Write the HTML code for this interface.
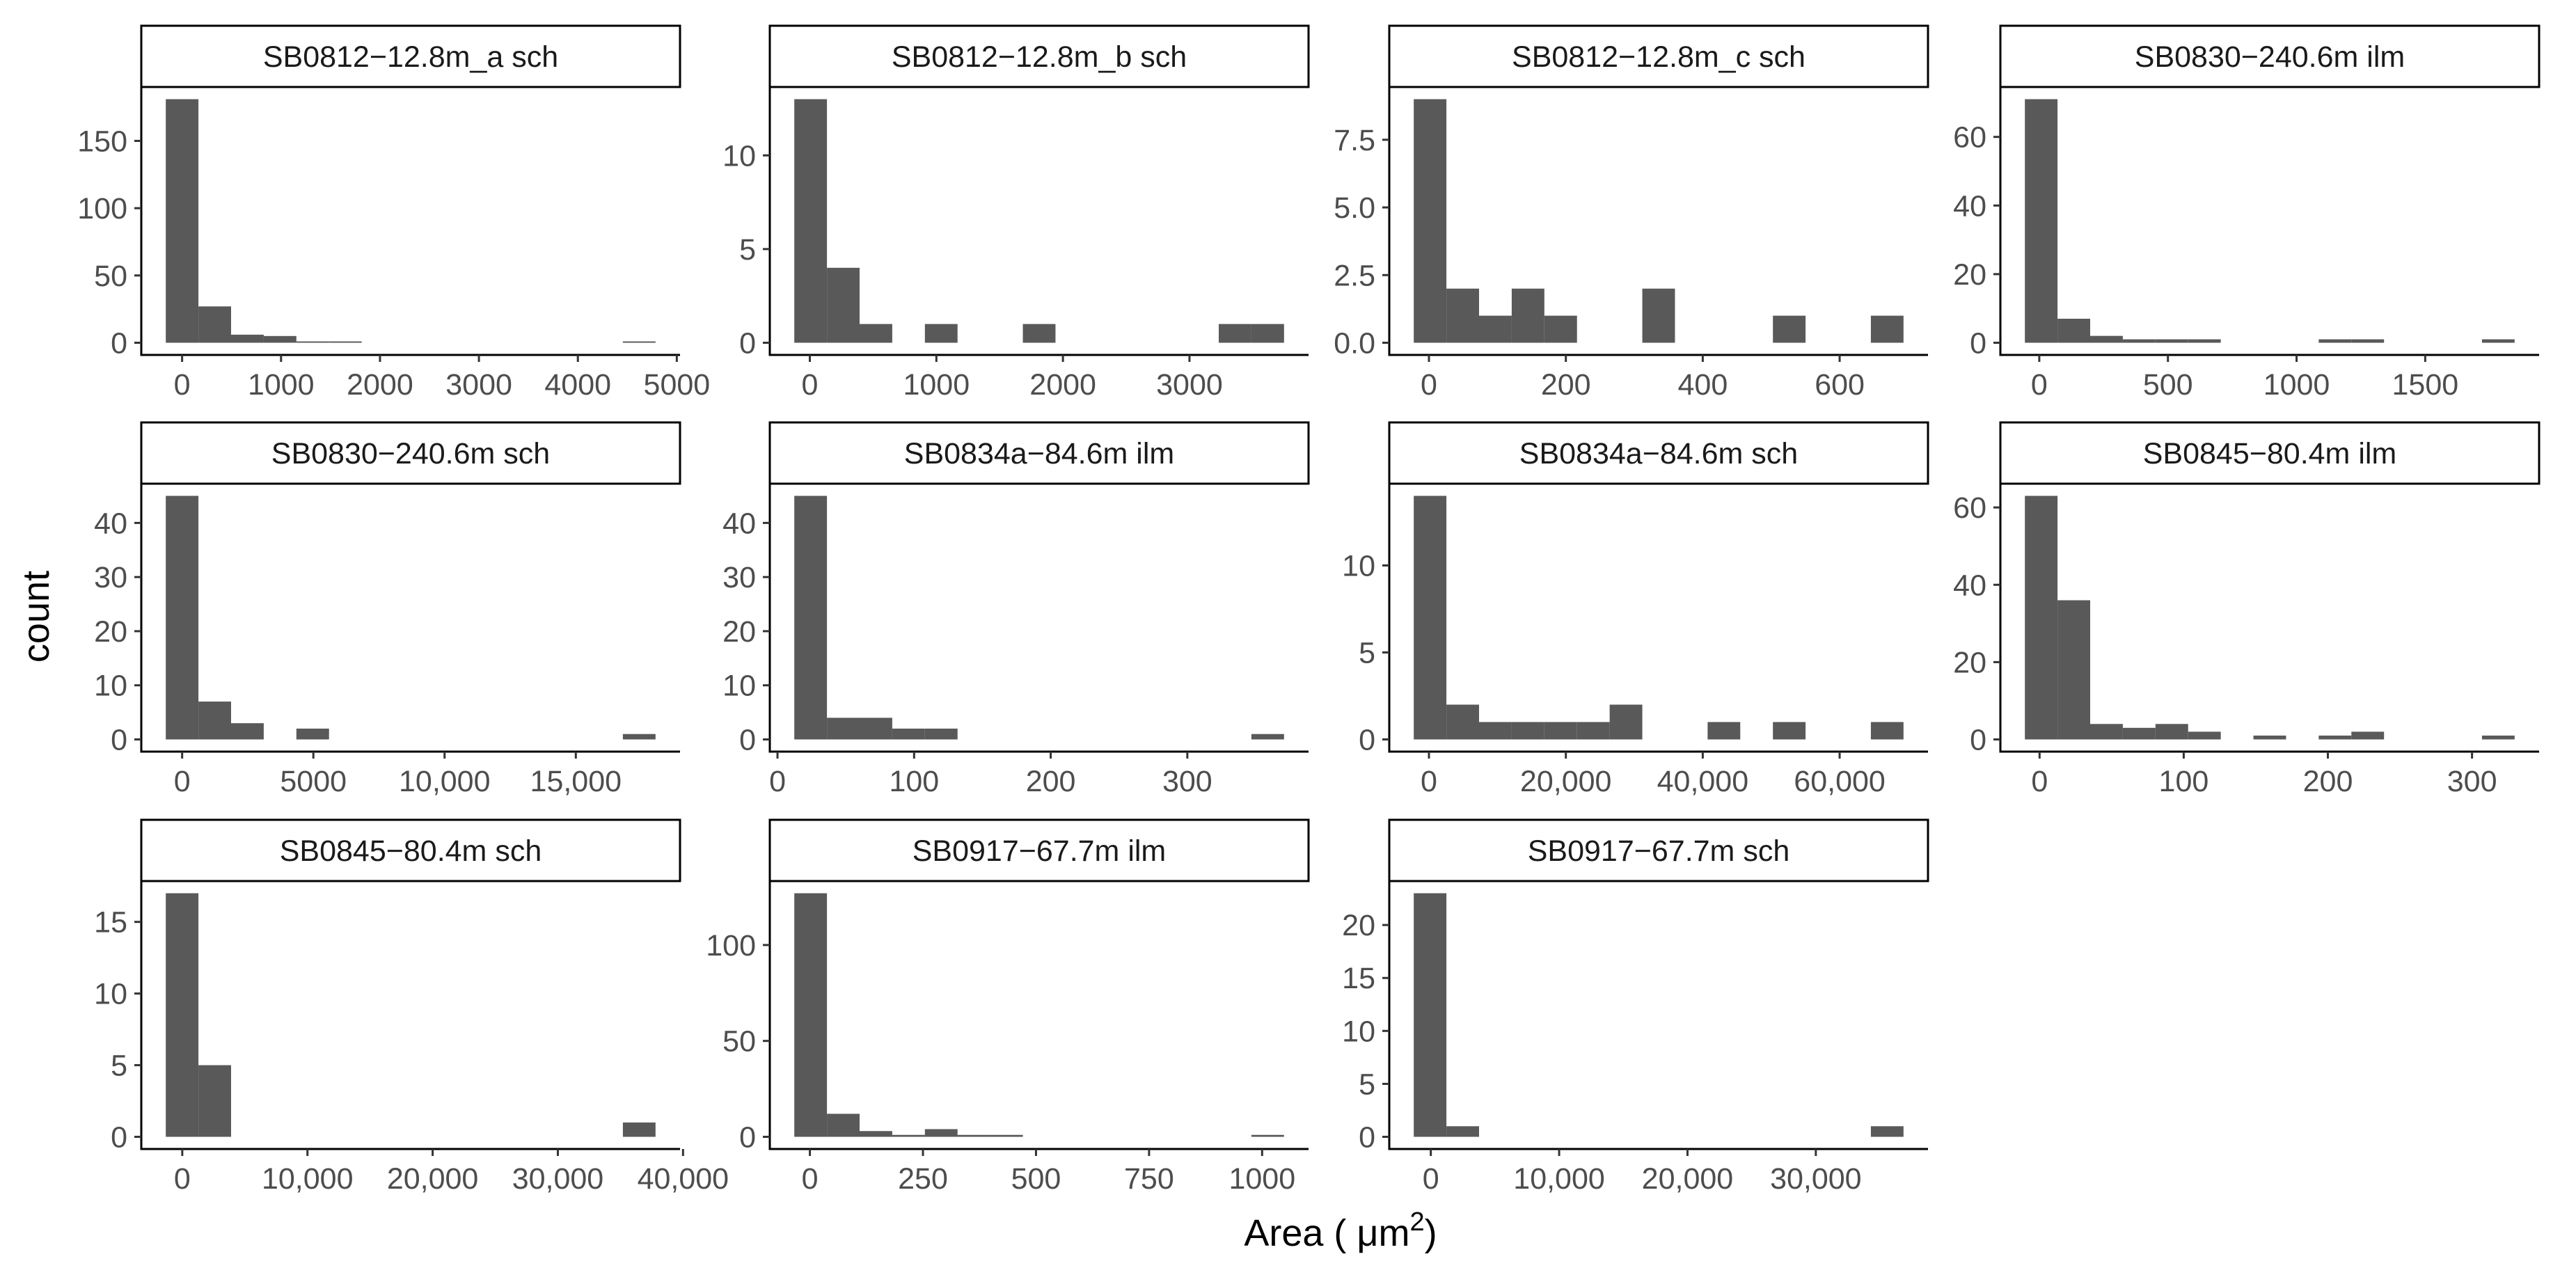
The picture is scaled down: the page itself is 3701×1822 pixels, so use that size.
<!DOCTYPE html>
<html><head><meta charset="utf-8"><title>Area histograms</title>
<style>
html,body{margin:0;padding:0;background:#fff;}
svg{display:block;font-family:"Liberation Sans",Arial,sans-serif;}
</style></head>
<body>
<svg id="chart" width="3701" height="1822" viewBox="0 0 3701 1822" xmlns="http://www.w3.org/2000/svg">
<rect x="0" y="0" width="3701" height="1822" fill="#fff"/>
<text x="70" y="886" font-size="54" fill="#000" text-anchor="middle" transform="rotate(-90 70 886)">count</text>
<text x="1926" y="1790" font-size="54" fill="#000" text-anchor="middle">Area ( μm<tspan dy="-22" font-size="38">2</tspan><tspan dy="22">)</tspan></text>
</svg>
<script>
// ---- data ----
const panelTitles = ["SB0812\u221212.8m_a sch","SB0812\u221212.8m_b sch","SB0812\u221212.8m_c sch","SB0830\u2212240.6m ilm",
  "SB0830\u2212240.6m sch","SB0834a\u221284.6m ilm","SB0834a\u221284.6m sch","SB0845\u221280.4m ilm",
  "SB0845\u221280.4m sch","SB0917\u221267.7m ilm","SB0917\u221267.7m sch"];
const binStarts = [-165, -122.7, -22.2, -56, -623, 12.3, -2220, -10.2, -1317, -34.5, -1328];
const binWidths = [330, 258, 47.7, 126.9, 1244, 23.9, 4770, 22.65, 2608, 72.2, 2544];
const countsP1  = [181,27,6,5,1,1,0,0,0,0,0,0,0,0,1];
const countsP2  = [13,4,1,0,1,0,0,1,0,0,0,0,0,1,1];
const countsP3  = [9,2,1,2,1,0,0,2,0,0,0,1,0,0,1];
const countsP4  = [71,7,2,1,1,1,0,0,0,1,1,0,0,0,1];
const countsP5  = [45,7,3,0,2,0,0,0,0,0,0,0,0,0,1];
const countsP6  = [45,4,4,2,2,0,0,0,0,0,0,0,0,0,1];
const countsP7  = [14,2,1,1,1,1,2,0,0,1,0,1,0,0,1];
const countsP8  = [63,36,4,3,4,2,0,1,0,1,2,0,0,0,1];
const countsP9  = [17,5,0,0,0,0,0,0,0,0,0,0,0,0,1];
const countsP10 = [127,12,3,1,4,1,1,0,0,0,0,0,0,0,1];
const countsP11 = [23,1,0,0,0,0,0,0,0,0,0,0,0,0,1];
const allCounts = [countsP1,countsP2,countsP3,countsP4,countsP5,countsP6,countsP7,countsP8,countsP9,countsP10,countsP11];
const yTicks = [[0,50,100,150],[0,5,10],[0,2.5,5,7.5],[0,20,40,60],[0,10,20,30,40],[0,10,20,30,40],
  [0,5,10],[0,20,40,60],[0,5,10,15],[0,50,100],[0,5,10,15,20]];
const yTickLabels = [["0","50","100","150"],["0","5","10"],["0.0","2.5","5.0","7.5"],["0","20","40","60"],
  ["0","10","20","30","40"],["0","10","20","30","40"],["0","5","10"],["0","20","40","60"],["0","5","10","15"],
  ["0","50","100"],["0","5","10","15","20"]];
const xTicks = [[0,1000,2000,3000,4000,5000],[0,1000,2000,3000],[0,200,400,600],[0,500,1000,1500],
  [0,5000,10000,15000],[0,100,200,300],[0,20000,40000,60000],[0,100,200,300],[0,10000,20000,30000,40000],
  [0,250,500,750,1000],[0,10000,20000,30000]];
const xTickLabels = [["0","1000","2000","3000","4000","5000"],["0","1000","2000","3000"],["0","200","400","600"],
  ["0","500","1000","1500"],["0","5000","10,000","15,000"],["0","100","200","300"],["0","20,000","40,000","60,000"],
  ["0","100","200","300"],["0","10,000","20,000","30,000","40,000"],["0","250","500","750","1000"],
  ["0","10,000","20,000","30,000"]];

// ---- layout ----
const colLeft = [203, 1106, 1996, 2874];
const stripTop = [37, 607, 1178];
const STRIP_H = 88, PLOT_H = 385, PANEL_W = 774;
const NS = "http://www.w3.org/2000/svg";
const svg = document.getElementById("chart");
function mk(tag, attrs, parent){
  const e = document.createElementNS(NS, tag);
  for (const k in attrs) e.setAttribute(k, attrs[k]);
  (parent||svg).appendChild(e);
  return e;
}

for (let p = 0; p < panelTitles.length; p++) {
  const col = p % 4, row = Math.floor(p / 4);
  const L = colLeft[col], sT = stripTop[row];
  const pT = sT + STRIP_H, pB = pT + PLOT_H;
  const counts = allCounts[p];
  const n = counts.length, w = binWidths[p], x0 = binStarts[p];
  const span = n * w;
  const xMin = x0 - 0.05 * span, xMax = x0 + span + 0.05 * span;
  const cMax = Math.max(...counts);
  const yMin = -0.05 * cMax, yMax = 1.05 * cMax;
  const xs = v => L + (v - xMin) / (xMax - xMin) * PANEL_W;
  const ys = v => pB - (v - yMin) / (yMax - yMin) * PLOT_H;

  const g = mk("g", {});
  
  

  // bars
  counts.forEach((c, i) => {
    const bx = xs(x0 + i * w), bx2 = xs(x0 + (i + 1) * w);
    const r = mk("rect", {x: bx, y: ys(c), width: bx2 - bx, height: ys(0) - ys(c), fill: "#595959"}, g);
    
    
  });

  // strip
  const sr = mk("rect", {x: L, y: sT, width: PANEL_W, height: STRIP_H, fill: "#fff", stroke: "#000", "stroke-width": 3}, g);
  
  
  const st = mk("text", {x: L + PANEL_W / 2, y: sT + STRIP_H / 2 + 15, "font-size": 43, fill: "#1a1a1a", "text-anchor": "middle"}, g);
  st.textContent = panelTitles[p];
  
  

  // axes
  const ya = mk("line", {x1: L, y1: pT, x2: L, y2: pB + 1.5, stroke: "#000", "stroke-width": 3}, g);
  
  
  const xa = mk("line", {x1: L - 1.5, y1: pB, x2: L + PANEL_W, y2: pB, stroke: "#000", "stroke-width": 3}, g);
  
  

  yTicks[p].forEach((v, i) => {
    const y = ys(v);
    const t = mk("line", {x1: L - 10, y1: y, x2: L, y2: y, stroke: "#333", "stroke-width": 3}, g);
    
    
    const lb = mk("text", {x: L - 20, y: y + 15, "font-size": 43, fill: "#4d4d4d", "text-anchor": "end"}, g);
    lb.textContent = yTickLabels[p][i];
    
    
  });
  xTicks[p].forEach((v, i) => {
    const x = xs(v);
    const t = mk("line", {x1: x, y1: pB, x2: x, y2: pB + 10, stroke: "#333", "stroke-width": 3}, g);
    
    
    const lb = mk("text", {x: x, y: pB + 57, "font-size": 43, fill: "#4d4d4d", "text-anchor": "middle"}, g);
    lb.textContent = xTickLabels[p][i];
    
    
  });
}
</script>
</body></html>
